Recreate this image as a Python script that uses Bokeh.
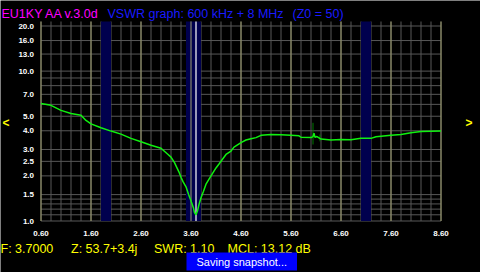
from bokeh.plotting import figure
from bokeh.models import Range1d, FixedTicker, PrintfTickFormatter, Label
from bokeh.embed import file_html
from bokeh.resources import INLINE

# ---- data ----
freq_mhz = [0.60, 0.80, 1.00, 1.20, 1.40, 1.50, 1.60, 1.80, 2.00, 2.20, 2.40, 2.60,
            2.80, 3.00, 3.13, 3.20, 3.27, 3.36, 3.40, 3.44, 3.50, 3.55, 3.60, 3.65,
            3.67, 3.70, 3.73, 3.76, 3.80, 3.85, 3.90, 4.00, 4.10, 4.16, 4.30, 4.40,
            4.46, 4.60, 4.70, 4.80, 4.90, 5.00, 5.20, 5.40, 5.60, 5.76, 5.80, 6.00,
            6.04, 6.06, 6.08, 6.12, 6.20, 6.40, 6.60, 6.80, 7.00, 7.20, 7.30, 7.60,
            7.80, 8.00, 8.20, 8.60]
vswr = [6.09, 5.91, 5.47, 5.22, 5.07, 4.69, 4.45, 4.19, 3.98, 3.80, 3.56, 3.38,
        3.20, 3.06, 2.80, 2.67, 2.45, 2.12, 1.96, 1.83, 1.69, 1.51, 1.36, 1.22,
        1.14, 1.10, 1.17, 1.29, 1.43, 1.58, 1.76, 2.00, 2.26, 2.40, 2.78, 2.93,
        3.11, 3.33, 3.47, 3.54, 3.60, 3.73, 3.78, 3.76, 3.74, 3.70, 3.62, 3.60,
        3.66, 3.86, 3.62, 3.66, 3.52, 3.47, 3.50, 3.48, 3.56, 3.56, 3.65, 3.73,
        3.78, 3.88, 3.96, 3.98]

spike_freq = [6.04, 6.18]
spike_lo = [3.24, 3.40]
spike_hi = [4.52, 3.78]

band_lo = [1.8, 3.5, 7.0]
band_hi = [2.0, 3.8, 7.2]

marker_freq = [3.70]

x_label_ticks = [0.6, 1.6, 2.6, 3.6, 4.6, 5.6, 6.6, 7.6, 8.6]
x_grid_ticks = [0.6, 0.8, 1.0, 1.2, 1.4, 1.6, 1.8, 2.0, 2.2, 2.4, 2.6, 2.8, 3.0, 3.2,
                3.4, 3.6, 3.8, 4.0, 4.2, 4.4, 4.6, 4.8, 5.0, 5.2, 5.4, 5.6, 5.8, 6.0,
                6.2, 6.4, 6.6, 6.8, 7.0, 7.2, 7.4, 7.6, 7.8, 8.0, 8.2, 8.4, 8.6]
y_label_ticks = [1.0, 1.5, 2.0, 2.5, 3.0, 4.0, 5.0, 7.0, 10.0, 13.0, 16.0, 20.0]
y_grid_ticks = [1.0, 1.1, 1.2, 1.3, 1.4, 1.5, 2.0, 2.5, 3.0, 4.0, 5.0, 6.0, 7.0, 8.0,
                9.0, 10.0, 13.0, 16.0, 20.0]

title_left = "EU1KY AA v.3.0d"
title_mid = "VSWR graph: 600 kHz + 8 MHz"
title_right = "(Z0 = 50)"
status = ["F: 3.7000", "Z: 53.7+3.4j", "SWR: 1.10", "MCL: 13.12 dB"]
popup = "Saving snapshot..."

# ---- figure: the frame covers the whole 480x272 canvas ----
W, H = 480, 272
X_START, X_END = -0.21, 9.39          # 50 px per MHz, 0.60 at x=40.5
Y_START, Y_END = 0.45330, 29.595       # ~150 px per decade, 1.0 at y=220.5
GRID_TOP = 21.43                       # top of the graph area (y=21)

p = figure(width=W, height=H, x_range=Range1d(X_START, X_END),
           y_range=Range1d(Y_START, Y_END), y_axis_type="log",
           output_backend="svg", toolbar_location=None,
           min_border_left=0, min_border_right=0, min_border_top=0,
           min_border_bottom=0, background_fill_color="black",
           border_fill_color="black", outline_line_color=None)
p.xgrid.visible = False
p.ygrid.visible = False

GRAY = "#585858"
KHAKI = "#a0a070"

x_lo, x_hi = x_grid_ticks[0], x_grid_ticks[-1]
y_lo = y_grid_ticks[0]

# axes pinned to the graph edges (labels only)
p.xaxis.fixed_location = y_lo
p.yaxis.fixed_location = x_lo
for ax in (p.xaxis, p.yaxis):
    ax.axis_line_color = None
    ax.major_tick_line_color = None
    ax.minor_tick_line_color = None
    ax.major_label_text_color = "white"
    ax.major_label_text_font = "Liberation Sans"
    ax.major_label_text_font_style = "bold"
    ax.major_label_text_font_size = "8px"
p.xaxis.ticker = FixedTicker(ticks=x_label_ticks)
p.xaxis.formatter = PrintfTickFormatter(format="%.2f")
p.xaxis.major_label_standoff = 4
p.yaxis.ticker = FixedTicker(ticks=y_label_ticks)
p.yaxis.formatter = PrintfTickFormatter(format="%.1f")
p.yaxis.major_label_standoff = 1

# gray grid
p.segment(x0=x_grid_ticks, x1=x_grid_ticks, y0=y_lo, y1=GRID_TOP,
          line_color=GRAY, line_width=1)
p.segment(x0=x_lo, x1=x_hi, y0=y_grid_ticks, y1=y_grid_ticks,
          line_color=GRAY, line_width=1)
# bands
p.quad(left=band_lo, right=band_hi, bottom=y_lo, top=GRID_TOP,
       fill_color="#00004e", line_color=None)
# major (khaki) vertical lines
p.segment(x0=x_label_ticks, x1=x_label_ticks, y0=y_lo, y1=GRID_TOP,
          line_color=KHAKI, line_width=1)
# marker
p.segment(x0=marker_freq, x1=marker_freq, y0=y_lo, y1=GRID_TOP,
          line_color="white", line_width=1.2)
# secondary trace spike
p.segment(x0=spike_freq, x1=spike_freq, y0=spike_lo, y1=spike_hi,
          line_color="#007a00", line_width=1)
# VSWR curve
p.line(freq_mhz, vswr, line_color="#10f010", line_width=1.5)


def lab(text, x, ybase, color, size, style="normal", **kw):
    # x, ybase in canvas pixels from the top-left corner
    p.add_layout(Label(x=x, y=H - ybase, x_units="screen", y_units="screen",
                       text=text, text_color=color, text_font="Liberation Sans",
                       text_font_size=size, text_font_style=style,
                       text_baseline="alphabetic", **kw))


lab(title_left, 1, 13, "#ff00ff", "12.5px")
lab(title_mid, 107, 13, "#1a1aff", "12.5px")
lab(title_right, 292, 13, "#1a1aff", "12.5px")

for t, x in zip(status, [0, 70.5, 153.5, 227]):
    lab(t, x, 248.5, "#ffff00", "12.5px")

lab("<", 2, 122, "#ffff00", "12px", "bold")
lab(">", 465, 122, "#ffff00", "12px", "bold")

lab(popup, 186, 261, "white", "11px", background_fill_color="#0000ff",
    padding=(10, 3))

open("out.html", "w").write(file_html(p, INLINE))
